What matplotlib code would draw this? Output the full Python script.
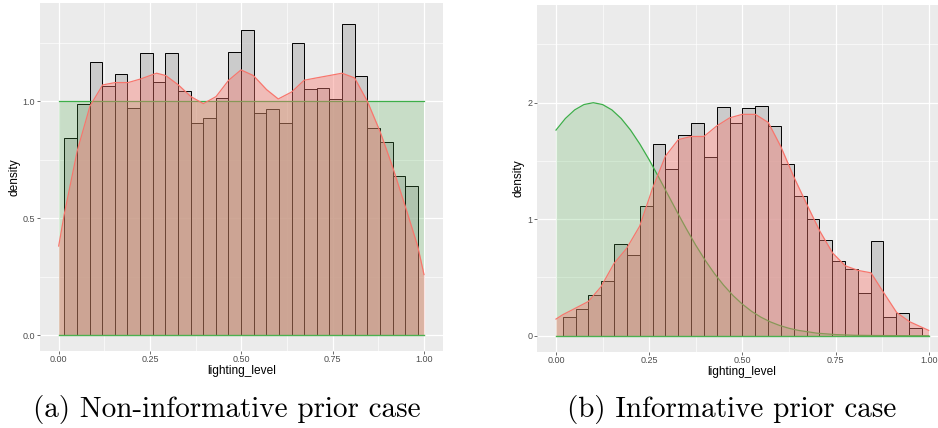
import numpy as np
import matplotlib
matplotlib.use("Agg")
import matplotlib.pyplot as plt
from matplotlib.ticker import FixedLocator

plt.rcParams['font.family'] = ['Liberation Sans', 'DejaVu Sans']

# ---- panel (a): non-informative prior ----
a_bin_start = 0.0155
a_bin_w = 0.03455
a_hist = [0.842, 0.987, 1.168, 1.064, 1.116, 0.973, 1.205, 1.081, 1.205, 1.044,
          0.906, 0.929, 1.016, 1.211, 1.304, 0.949, 0.966, 0.906, 1.247, 1.051,
          1.058, 1.009, 1.332, 1.108, 0.884, 0.827, 0.682, 0.638]
a_kde_x = [0.0, 0.0155, 0.051, 0.0857, 0.1204, 0.155, 0.19, 0.2235, 0.268, 0.293,
           0.3275, 0.362, 0.396, 0.4307, 0.4653, 0.499, 0.533, 0.569, 0.601, 0.638,
           0.672, 0.706, 0.741, 0.7756, 0.81, 0.845, 0.88, 0.914, 0.949, 0.983, 1.0]
a_kde_y = [0.382, 0.52, 0.79, 0.98, 1.07, 1.08, 1.08, 1.095, 1.12, 1.11,
           1.07, 1.02, 0.99, 1.02, 1.09, 1.134, 1.11, 1.05, 1.01, 1.04,
           1.09, 1.10, 1.11, 1.12, 1.10, 1.0, 0.87, 0.72, 0.55, 0.38, 0.26]
a_prior_x = [0.0, 1.0]
a_prior_y = [1.0, 1.0]

# ---- panel (b): informative prior ----
b_bin_start = 0.018
b_bin_w = 0.03443
b_hist = [0.160, 0.229, 0.349, 0.474, 0.786, 0.691, 1.111, 1.648, 1.431, 1.720,
          1.828, 1.531, 1.965, 1.828, 1.951, 1.974, 1.800, 1.477, 1.197, 1.003,
          0.823, 0.640, 0.571, 0.366, 0.817, 0.163, 0.191, 0.066]
b_kde_x = [0.0, 0.0179, 0.0519, 0.0868, 0.1207, 0.1556, 0.1896, 0.2245, 0.2585, 0.2934,
           0.3282, 0.3622, 0.397, 0.4311, 0.466, 0.5, 0.5348, 0.5697, 0.6037, 0.6386,
           0.6726, 0.7075, 0.7423, 0.7763, 0.8112, 0.8452, 0.88, 0.914, 0.949, 1.0]
b_kde_y = [0.143, 0.18, 0.236, 0.294, 0.42, 0.62, 0.75, 0.94, 1.26, 1.54,
           1.683, 1.71, 1.71, 1.80, 1.87, 1.90, 1.90, 1.83, 1.62, 1.36,
           1.13, 0.90, 0.71, 0.60, 0.56, 0.54, 0.366, 0.20, 0.12, 0.046]
b_prior_x = [0.0, 0.025, 0.05, 0.075, 0.1, 0.125, 0.15, 0.175, 0.2, 0.225,
             0.25, 0.275, 0.3, 0.325, 0.35, 0.375, 0.4, 0.425, 0.45, 0.475,
             0.5, 0.525, 0.55, 0.575, 0.6, 0.625, 0.65, 0.7, 0.75, 0.8,
             0.85, 0.9, 1.0]
b_prior_y = [1.765, 1.864, 1.938, 1.984, 2.0, 1.984, 1.938, 1.864, 1.765, 1.645,
             1.510, 1.364, 1.213, 1.062, 0.916, 0.777, 0.649, 0.534, 0.433, 0.345,
             0.271, 0.209, 0.159, 0.119, 0.088, 0.064, 0.046, 0.022, 0.010, 0.004,
             0.002, 0.001, 0.0]

x_ticks = [0.0, 0.25, 0.5, 0.75, 1.0]
x_ticklabels = ["0.00", "0.25", "0.50", "0.75", "1.00"]
a_yticks = [0.0, 0.5, 1.0]
a_yticklabels = ["0.0", "0.5", "1.0"]
b_yticks = [0, 1, 2]
b_yticklabels = ["0", "1", "2"]
captions = ["(a) Non-informative prior case", "(b) Informative prior case"]

RED = "#F8766D"
GREEN_FILL = "#4DAF4A"
GREEN_LINE = "#3DAE49"

W, H = 938, 428
fig = plt.figure(figsize=(W / 100, H / 100), dpi=100)


def px_axes(x0, y_top, x1, y_bot):
    return fig.add_axes([x0 / W, (H - y_bot) / H, (x1 - x0) / W, (y_bot - y_top) / H])


def draw_panel(ax, bin_start, bin_w, hist, kde_x, kde_y, prior_x, prior_y,
               yticks, yticklabels, yminor):
    ax.set_facecolor("#EBEBEB")
    for s in ax.spines.values():
        s.set_visible(False)
    ax.set_axisbelow(True)
    ax.xaxis.set_minor_locator(FixedLocator([0.125, 0.375, 0.625, 0.875]))
    ax.yaxis.set_minor_locator(FixedLocator(yminor))
    ax.grid(which="major", color="white", linewidth=0.9)
    ax.grid(which="minor", color="white", linewidth=0.45)

    left = bin_start + bin_w * np.arange(len(hist))
    ax.bar(left, hist, width=bin_w, align="edge", color="#BEBEBE", alpha=0.7,
           edgecolor="none", zorder=2)
    ax.bar(left, hist, width=bin_w, align="edge", fill=False,
           edgecolor="black", linewidth=0.7, zorder=2)

    ax.fill_between(prior_x, 0, prior_y, color=GREEN_FILL, alpha=0.22, linewidth=0, zorder=3)
    ax.plot(prior_x, prior_y, color=GREEN_LINE, linewidth=0.9, zorder=3)
    ax.fill_between(kde_x, 0, kde_y, color=RED, alpha=0.4, linewidth=0, zorder=4)
    ax.plot(kde_x, kde_y, color=RED, linewidth=0.9, zorder=4)
    ax.plot([0, 1], [0, 0], color="#4CB050", linewidth=1.0, zorder=5)

    ax.set_xticks(x_ticks)
    ax.set_xticklabels(x_ticklabels)
    ax.set_yticks(yticks)
    ax.set_yticklabels(yticklabels)
    ax.tick_params(which="major", length=2.2, width=0.5, color="#333333",
                   labelcolor="#4D4D4D", labelsize=6.5, pad=1.2)
    ax.tick_params(which="minor", length=0)
    ax.set_xlabel("lighting_level", fontsize=8.6)
    ax.set_ylabel("density", fontsize=8.6, labelpad=2)


ax1 = px_axes(40, 3.3, 442.7, 350.7)
draw_panel(ax1, a_bin_start, a_bin_w, a_hist, a_kde_x, a_kde_y, a_prior_x, a_prior_y,
           a_yticks, a_yticklabels, [0.25, 0.75, 1.25])
ax1.set_xlim(-0.0512, 1.0512)
ax1.set_ylim(-0.065, 1.4185)

ax2 = px_axes(537.3, 4.7, 938, 351.7)
draw_panel(ax2, b_bin_start, b_bin_w, b_hist, b_kde_x, b_kde_y, b_prior_x, b_prior_y,
           b_yticks, b_yticklabels, [0.5, 1.5, 2.5])
ax2.set_xlim(-0.0502, 1.025)
ax2.set_ylim(-0.137, 2.841)
ax2.xaxis.set_label_coords((742 - 537.3) / (938 - 537.3), -0.041)
ax1.xaxis.set_label_coords(0.5, -0.041)

fig.text(226.5 / W, 1 - 417.3 / H, captions[0], family="cmr10", fontsize=21,
         ha="center", va="baseline")
fig.text(731.3 / W, 1 - 417.3 / H, captions[1], family="cmr10", fontsize=21,
         ha="center", va="baseline")

fig.savefig("out.png", dpi=100)
